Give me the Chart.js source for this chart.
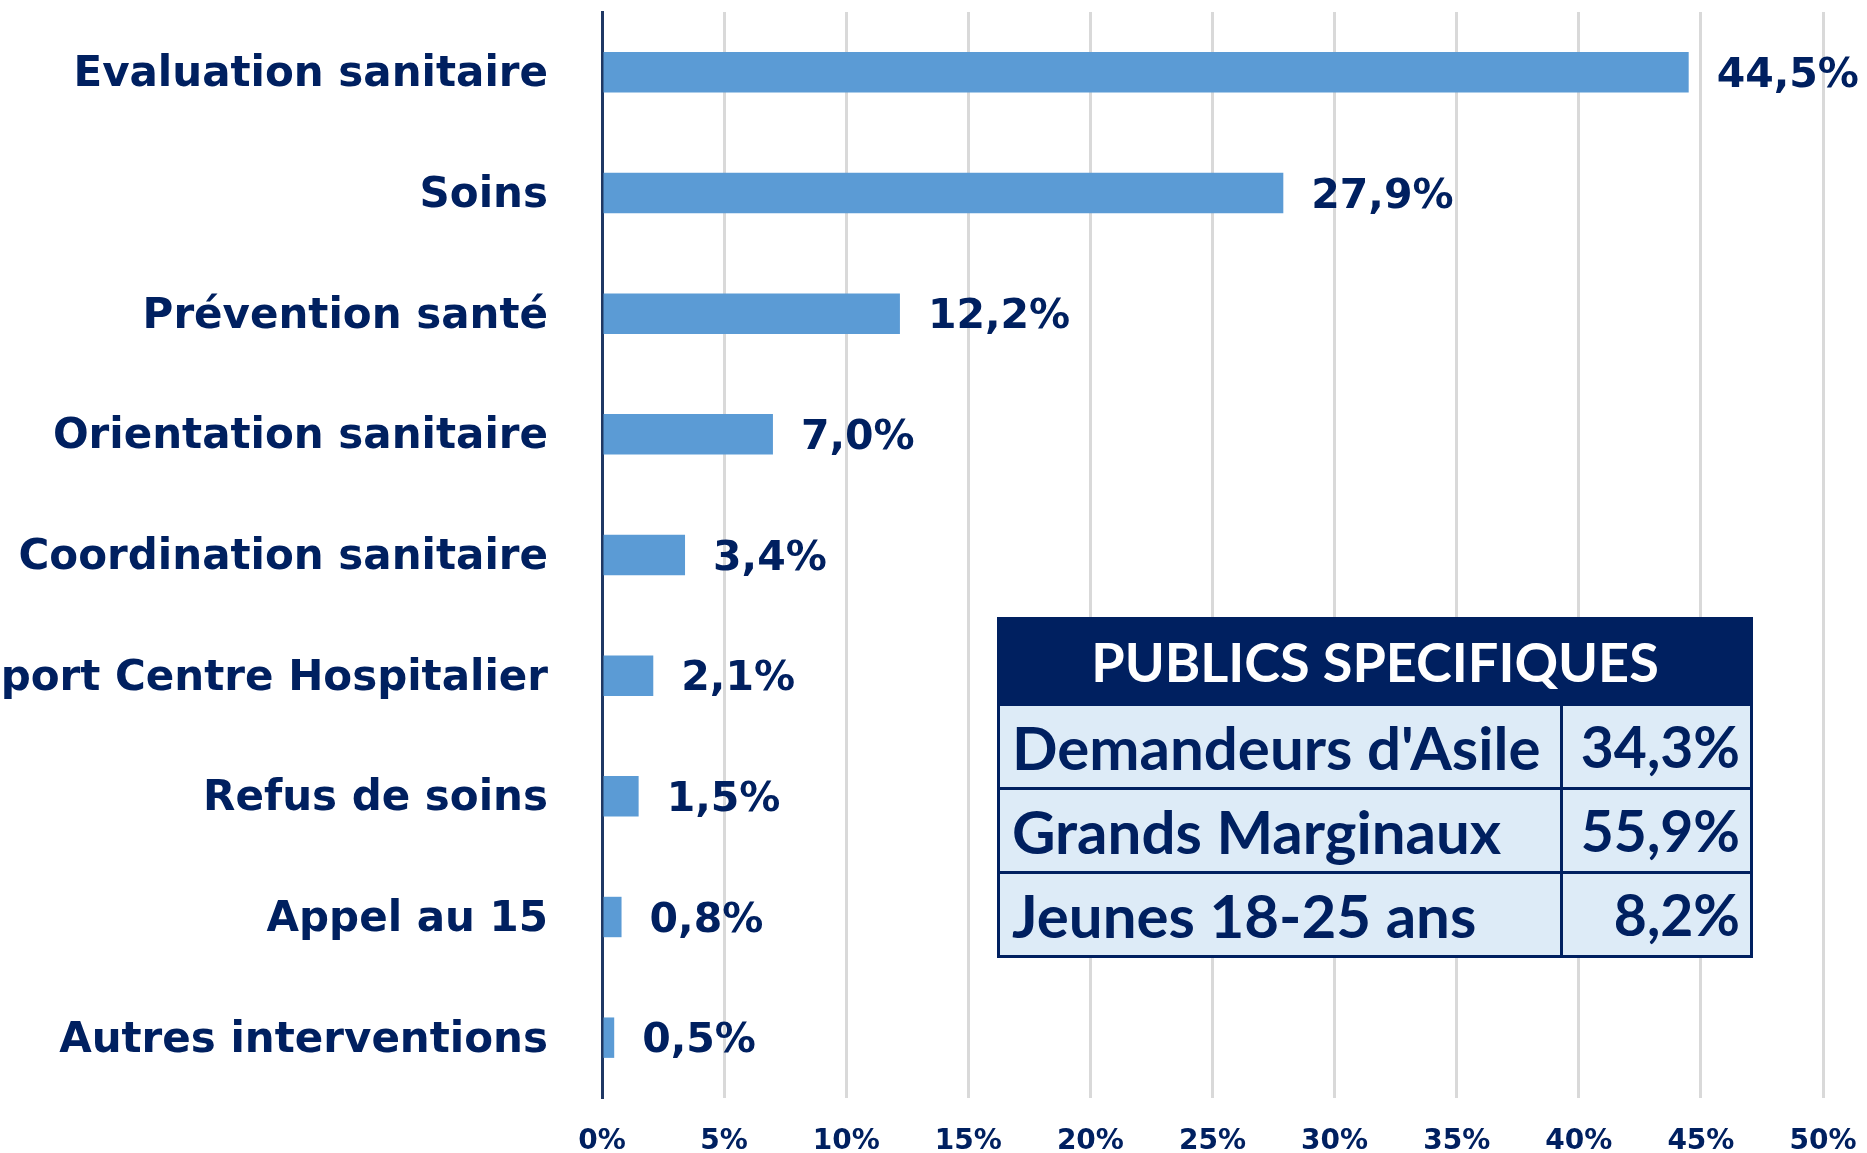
<!DOCTYPE html>
<html lang="fr">
<head>
<meta charset="utf-8">
<title>Interventions sanitaires</title>
<script src="https://cdn.jsdelivr.net/npm/chart.js@4.4.1/dist/chart.umd.min.js"></script>
<style>
    html, body { margin: 0; padding: 0; background: #ffffff; }
    #wrap { position: relative; width: 1867px; height: 1153px; overflow: hidden; }
    #publics {
        position: absolute; left: 997px; top: 617px; width: 753px;
        border-collapse: collapse; table-layout: fixed;
        font-family: Lato, "Noto Sans", sans-serif; font-weight: bold;
        color: #002060;
    }
    #publics th {
        background: #002060; color: #ffffff; height: 83px; padding: 0;
        font-size: 54px; text-align: center; border: 3px solid #002060;
    }
    #publics td {
        background: #DDEBF7; height: 81px; padding: 0 10px 0 12px;
        font-size: 60px; line-height: 1; border: 3px solid #002060; white-space: nowrap;
    }
    #publics td.val { text-align: right; font-size: 57px; }
</style>
</head>
<body>
<div id="wrap">
    <canvas id="interventionsChart"></canvas>
    <table id="publics"></table>
</div>
<script>
// catégories d'intervention (axe vertical)
const categories = [
    "Evaluation sanitaire",
    "Soins",
    "Prévention santé",
    "Orientation sanitaire",
    "Coordination sanitaire",
    "Transport Centre Hospitalier",
    "Refus de soins",
    "Appel au 15",
    "Autres interventions"
];
// part de chaque intervention, en %
const parts = [44.5, 27.9, 12.2, 7.0, 3.4, 2.1, 1.5, 0.8, 0.5];
// axe horizontal
const xMin = 0;
const xMax = 50;
const xStep = 5;

// tableau "publics spécifiques"
const publicsTitre = "PUBLICS SPECIFIQUES";
const publicsLabels = ["Demandeurs d'Asile", "Grands Marginaux", "Jeunes 18-25 ans"];
const publicsValues = [34.3, 55.9, 8.2];

const navy = '#002060';
const fmt = v => v.toFixed(1).replace('.', ',') + '%';

// remplir le tableau
const table = document.getElementById('publics');
let html = '<colgroup><col style="width:563px"><col style="width:190px"></colgroup>';
html += `<tr><th colspan="2">${publicsTitre}</th></tr>`;
publicsLabels.forEach((label, i) => {
    html += `<tr><td>${label}</td><td class="val">${fmt(publicsValues[i])}</td></tr>`;
});
table.innerHTML = html;

// étiquettes de valeur au bout des barres
const valueLabels = {
    id: 'valueLabels',
    afterDatasetsDraw(chart) {
        const ctx = chart.ctx;
        const meta = chart.getDatasetMeta(0);
        ctx.save();
        ctx.font = 'bold 41px "DejaVu Sans"';
        ctx.fillStyle = navy;
        ctx.textAlign = 'left';
        ctx.textBaseline = 'middle';
        meta.data.forEach((bar, i) => {
            ctx.fillText(fmt(parts[i]), bar.x + 28, bar.y + 4);
        });
        ctx.restore();
    }
};

// pas de marge automatique autour des étiquettes d'axe
function noPadding(scale) {
    scale.paddingTop = 0;
    scale.paddingBottom = 0;
    scale.paddingLeft = 0;
    scale.paddingRight = 0;
}

const ctx = document.getElementById('interventionsChart').getContext('2d');
new Chart(ctx, {
    type: 'bar',
    data: {
        labels: categories,
        datasets: [{
            data: parts,
            backgroundColor: '#5B9BD5',
            barPercentage: 0.335,
            categoryPercentage: 1
        }]
    },
    options: {
        indexAxis: 'y',
        responsive: true,
        maintainAspectRatio: false,
        animation: false,
        layout: { padding: { top: 12, right: 44, bottom: 0, left: 0 } },
        plugins: {
            legend: { display: false },
            tooltip: { enabled: false }
        },
        scales: {
            x: {
                min: xMin,
                max: xMax,
                ticks: {
                    stepSize: xStep,
                    padding: 27,
                    color: navy,
                    font: { family: 'DejaVu Sans', size: 28, weight: 'bold' },
                    callback: v => v + '%'
                },
                grid: { color: '#D9D9D9', lineWidth: 3, drawTicks: false },
                border: { display: false },
                afterFit: scale => { scale.height = 55; noPadding(scale); }
            },
            y: {
                ticks: {
                    padding: 54,
                    labelOffset: 3,
                    color: navy,
                    font: { family: 'DejaVu Sans', size: 42, weight: 'bold' }
                },
                grid: { display: false, drawTicks: false },
                border: { display: true, color: '#1F3864', width: 3 },
                afterFit: scale => { scale.width = 602; noPadding(scale); }
            }
        }
    },
    plugins: [valueLabels]
});
</script>
</body>
</html>
